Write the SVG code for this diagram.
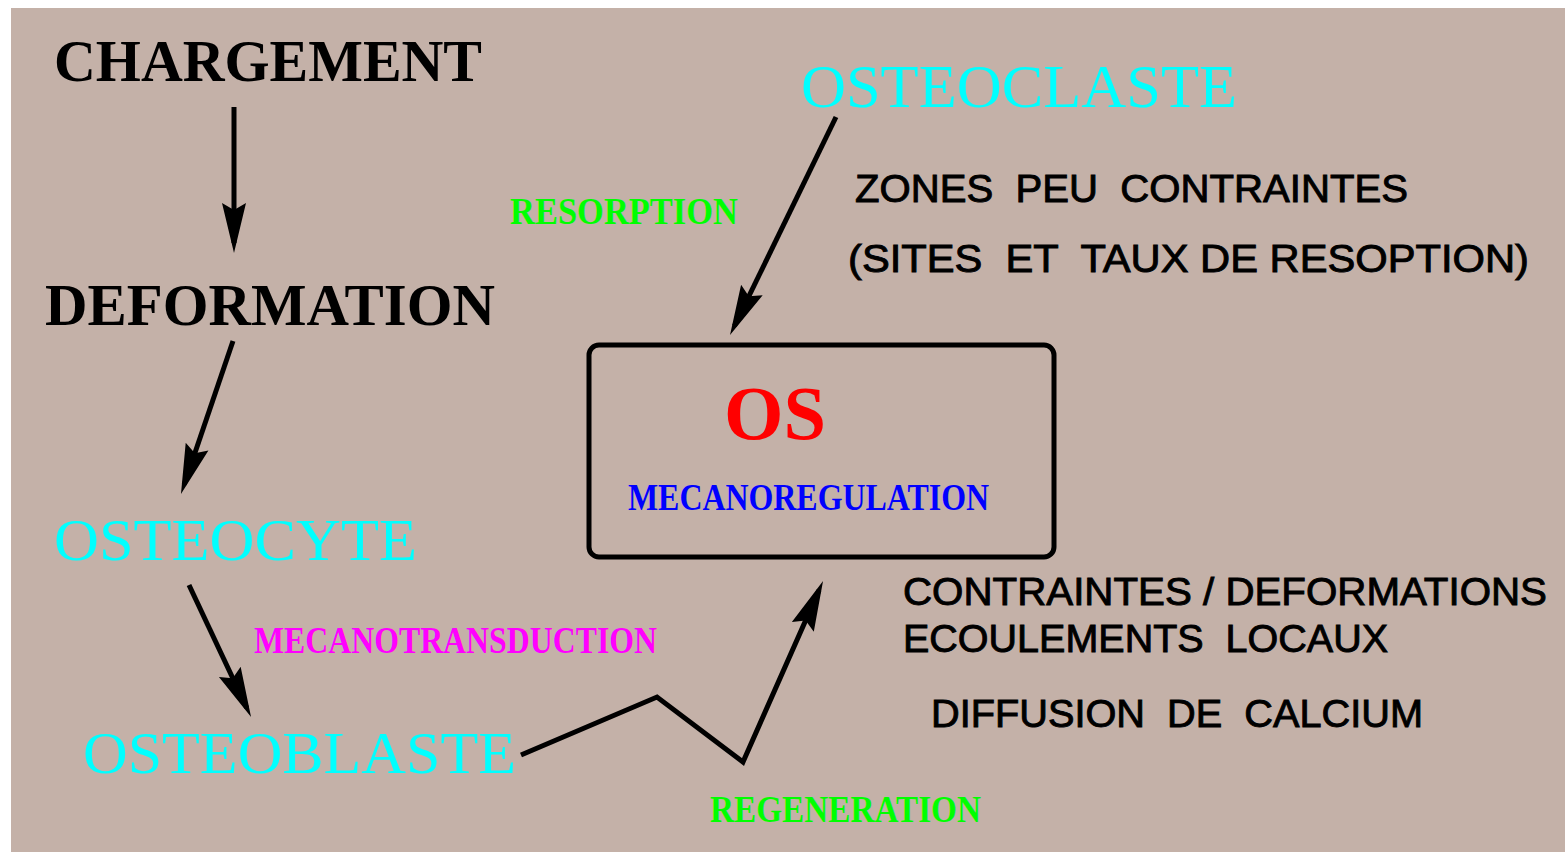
<svg xmlns="http://www.w3.org/2000/svg" width="1565" height="852" viewBox="0 0 1565 852">
<style>
.bg{fill:#C4B1A8}
.title{font-family:"Liberation Serif","Times New Roman",serif;font-weight:bold;fill:#000}
.cell{font-family:"Liberation Serif","Times New Roman",serif;fill:#00FFFF}
.lbl{font-family:"Liberation Serif","Times New Roman",serif;font-weight:bold;font-size:38px}
.note{font-family:"Liberation Sans",Arial,sans-serif;font-size:38px;fill:#000;stroke:#000;stroke-width:0.9;white-space:pre}
.conn{fill:none;stroke:#000;stroke-width:5;stroke-linejoin:miter}
.box{fill:none;stroke:#000;stroke-width:5}
</style>
<defs>
<marker id="ah" viewBox="-44 -14 56 28" refX="0" refY="0" markerWidth="56" markerHeight="28" markerUnits="userSpaceOnUse" orient="auto">
<path d="M10,0 L-40,-12 L-33,0 L-40,12 Z" fill="#000"/>
</marker>
</defs>
<rect class="bg" x="11" y="8" width="1554" height="844"/>

<g id="connectors">
<line class="conn" x1="234" y1="107" x2="234" y2="243" marker-end="url(#ah)"/>
<line class="conn" x1="233" y1="341" x2="184.2" y2="484.5" marker-end="url(#ah)"/>
<line class="conn" x1="189" y1="585" x2="246.8" y2="708" marker-end="url(#ah)"/>
<line class="conn" x1="836" y1="117" x2="734.4" y2="326" marker-end="url(#ah)"/>
<polyline class="conn" points="521,755 657,697 743,762 819,590.2" marker-end="url(#ah)"/>
<text id="lbl-resorption" class="lbl" x="510" y="224" fill="#00FF00" textLength="228" lengthAdjust="spacingAndGlyphs">RESORPTION</text>
<text id="lbl-mecanotransduction" class="lbl" x="254" y="653" fill="#FF00FF" textLength="403" lengthAdjust="spacingAndGlyphs">MECANOTRANSDUCTION</text>
<text id="lbl-regeneration" class="lbl" x="710" y="822" fill="#00FF00" textLength="271" lengthAdjust="spacingAndGlyphs">REGENERATION</text>
</g>

<g id="chargement">
<text class="title" x="54" y="81" font-size="60" textLength="428" lengthAdjust="spacingAndGlyphs">CHARGEMENT</text>
</g>
<g id="deformation">
<text class="title" x="45" y="325" font-size="60" textLength="450" lengthAdjust="spacingAndGlyphs">DEFORMATION</text>
</g>
<g id="osteocyte">
<text class="cell" x="54" y="560" font-size="60" textLength="363" lengthAdjust="spacingAndGlyphs">OSTEOCYTE</text>
</g>
<g id="osteoblaste">
<text class="cell" x="83" y="773" font-size="60" textLength="433" lengthAdjust="spacingAndGlyphs">OSTEOBLASTE</text>
</g>
<g id="osteoclaste">
<text class="cell" x="801" y="107" font-size="62" textLength="436" lengthAdjust="spacingAndGlyphs">OSTEOCLASTE</text>
</g>
<g id="os">
<rect class="box" x="589" y="345" width="465" height="212" rx="10" ry="10"/>
<text class="title" x="724" y="439" font-size="76" style="fill:#FF0000" textLength="102" lengthAdjust="spacingAndGlyphs">OS</text>
<text class="lbl" x="628" y="510" fill="#0000FF" textLength="361" lengthAdjust="spacingAndGlyphs">MECANOREGULATION</text>
</g>
<g id="note-resorption">
<text class="note" xml:space="preserve" x="855" y="202" textLength="553" lengthAdjust="spacingAndGlyphs">ZONES  PEU  CONTRAINTES</text>
<text class="note" xml:space="preserve" x="848" y="272" textLength="681" lengthAdjust="spacingAndGlyphs">(SITES  ET  TAUX DE RESOPTION)</text>
</g>
<g id="note-regeneration">
<text class="note" xml:space="preserve" x="903" y="605" textLength="644" lengthAdjust="spacingAndGlyphs">CONTRAINTES / DEFORMATIONS</text>
<text class="note" xml:space="preserve" x="903" y="652" textLength="485" lengthAdjust="spacingAndGlyphs">ECOULEMENTS  LOCAUX</text>
<text class="note" xml:space="preserve" x="931" y="727" textLength="492" lengthAdjust="spacingAndGlyphs">DIFFUSION  DE  CALCIUM</text>
</g>
</svg>
